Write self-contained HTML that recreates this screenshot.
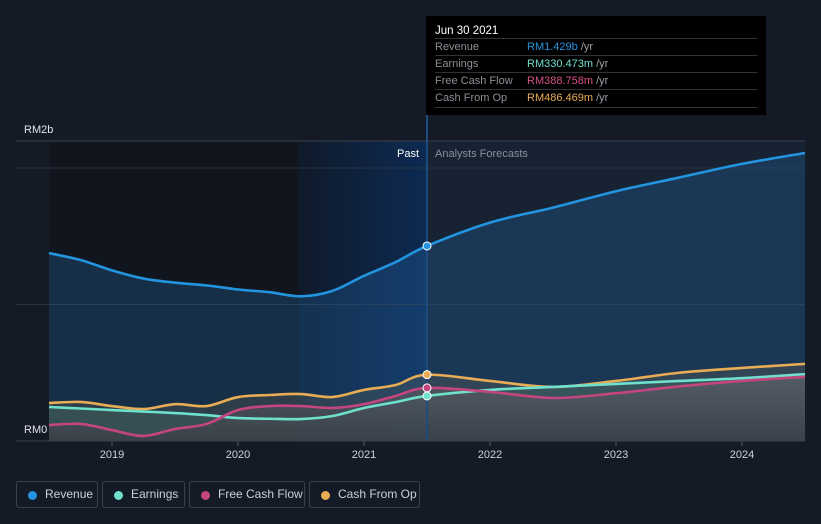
<!DOCTYPE html>
<html><head><meta charset="utf-8"><style>
body{margin:0;background:#151b26;font-family:"Liberation Sans",sans-serif;}
#wrap{position:relative;width:821px;height:524px;overflow:hidden;background:#151b26;}
svg{position:absolute;left:0;top:0;}
.tt{position:absolute;left:426px;top:16px;width:340px;height:99px;background:#000;color:#fff;font-size:11px;}
.tt .h{position:absolute;left:9px;top:9px;font-size:11.5px;}
.tt .r{position:absolute;left:9px;width:322px;height:17px;border-top:1px solid #333;color:#8a8f98;line-height:17px;}
.tt .r span{position:absolute;left:92px;}
.tt .r i{font-style:normal;color:#9aa0a8;}
.lg{position:absolute;top:481px;height:25px;border:1px solid #3a3f4a;border-radius:3px;color:#cdd0d6;font-size:12px;line-height:25px;box-sizing:border-box;height:27px;}
.lg b{position:absolute;left:11px;top:9px;width:9px;height:9px;border-radius:50%;}
.lg span{position:absolute;left:28px;}
</style></head><body>
<div id="wrap">
<svg id="chart" width="821" height="524"></svg>
<div class="tt">
 <div class="h">Jun 30 2021</div>
 <div class="r" style="top:22px">Revenue<span style="color:#2394df">RM1.429b <i>/yr</i></span></div>
 <div class="r" style="top:39px">Earnings<span style="color:#6ee0cc">RM330.473m <i>/yr</i></span></div>
 <div class="r" style="top:56px">Free Cash Flow<span style="color:#d9508a">RM388.758m <i>/yr</i></span></div>
 <div class="r" style="top:73px;border-bottom:1px solid #333">Cash From Op<span style="color:#e8ac55">RM486.469m <i>/yr</i></span></div>
</div>
<div class="lg" style="left:16px;width:82px"><b style="background:#2394df"></b><span>Revenue</span></div>
<div class="lg" style="left:102px;width:83px"><b style="background:#6ee0cc"></b><span>Earnings</span></div>
<div class="lg" style="left:189px;width:116px"><b style="background:#c4457f"></b><span>Free Cash Flow</span></div>
<div class="lg" style="left:309px;width:111px"><b style="background:#e8ac55"></b><span>Cash From Op</span></div>
</div>
<script>
const years=[2018.5,2018.75,2019,2019.25,2019.5,2019.75,2020,2020.25,2020.5,2020.75,2021,2021.25,2021.5,2022,2022.5,2023,2023.5,2024,2024.5];
const revenue=[1.377,1.326,1.25,1.19,1.16,1.14,1.11,1.09,1.06,1.10,1.21,1.31,1.429,1.60,1.71,1.83,1.93,2.03,2.11];
const earnings=[0.249,0.238,0.227,0.216,0.205,0.19,0.168,0.163,0.161,0.183,0.242,0.285,0.330,0.374,0.396,0.418,0.44,0.46,0.49];
const fcf=[0.117,0.125,0.08,0.037,0.088,0.125,0.227,0.256,0.256,0.242,0.27,0.33,0.389,0.36,0.315,0.35,0.40,0.44,0.47];
const cfo=[0.278,0.286,0.256,0.234,0.27,0.256,0.322,0.337,0.344,0.322,0.374,0.41,0.486,0.44,0.396,0.44,0.50,0.535,0.565];
const xTicks=[2019,2020,2021,2022,2023,2024];
const NOW=2021.5;
const X=y=>112+(y-2019)*126;
const Y=v=>441-v*136.5;
const svg=document.getElementById('chart');
const NS='http://www.w3.org/2000/svg';
function mk(t,a){const e=document.createElementNS(NS,t);for(const k in a)e.setAttribute(k,a[k]);svg.appendChild(e);return e;}
function path(vals){const p=years.map((y,i)=>[X(y),Y(vals[i])]);let d='M'+p[0];for(let i=0;i<p.length-1;i++){const p0=p[i-1]||p[i],p1=p[i],p2=p[i+1],p3=p[i+2]||p2;const c1=[p1[0]+(p2[0]-p0[0])/6,p1[1]+(p2[1]-p0[1])/6],c2=[p2[0]-(p3[0]-p1[0])/6,p2[1]-(p3[1]-p1[1])/6];d+='C'+c1+' '+c2+' '+p2;}return d;}
const defs=mk('defs',{});
defs.innerHTML='<linearGradient id="past" x1="0" x2="1"><stop offset="0" stop-color="#0f1a2a"/><stop offset="1" stop-color="#0d2a52"/></linearGradient><linearGradient id="gf" x1="0" y1="0" x2="0" y2="1"><stop offset="0" stop-color="#5a5d66" stop-opacity=".8"/><stop offset="1" stop-color="#3a3d46" stop-opacity=".8"/></linearGradient>';
let e;
e=mk('rect',{x:49,y:141,width:250,height:300,fill:'#11151d'});
e=mk('rect',{x:299,y:141,width:X(NOW)-299,height:300,fill:'url(#past)'});
e=mk('rect',{x:X(NOW),y:141,width:805-X(NOW),height:300,fill:'#172232'});
[[0.2,'#2a3140'],[1,'#2a3140'],[2,'#2a3140']].forEach((g,i)=>{e=mk('line',{x1:16,x2:805,y1:Y(g[0]*0)+0,y2:0,stroke:g[1]});e.remove();});
[Y(1),Y(2)].forEach(y=>{e=mk('line',{x1:16,x2:805,y1:y,y2:y,stroke:'#2a3140'});});
e=mk('line',{x1:16,x2:805,y1:141,y2:141,stroke:'#3a404c'});
const series=[[revenue,'#2394df','rgba(35,110,180,0.28)','revenue'],[cfo,'#e8ac55','rgba(120,110,80,0.25)','cash-from-op'],[earnings,'#6ee0cc','rgba(70,120,110,0.3)','earnings'],[fcf,'#c4457f','url(#gf)','free-cash-flow']];
series.forEach(s=>{const d=path(s[0]);e=mk('path',{d:d+'L'+X(2024.5)+',441L'+X(2018.5)+',441Z',fill:s[2]});});
e=mk('line',{x1:X(NOW),x2:X(NOW),y1:110,y2:441,stroke:'#1d4a80','stroke-width':2});
series.forEach(s=>{e=mk('path',{d:path(s[0]),fill:'none',stroke:s[1],'stroke-width':2.6});});
series.forEach(s=>{const i=years.indexOf(NOW);e=mk('circle',{cx:X(NOW),cy:Y(s[0][i]),r:4,fill:s[1],stroke:'#fff','stroke-width':1});});
e=mk('line',{x1:16,x2:805,y1:441,y2:441,stroke:'#3a404c'});
xTicks.forEach(t=>{e=mk('line',{x1:X(t),x2:X(t),y1:441,y2:446,stroke:'#555'});
e=mk('text',{x:X(t),y:458,fill:'#d0d3d8','font-size':11,'text-anchor':'middle'});e.textContent=t;});
e=mk('text',{x:24,y:133,fill:'#e0e2e6','font-size':11});e.textContent='RM2b';
e=mk('text',{x:24,y:433,fill:'#e0e2e6','font-size':11});e.textContent='RM0';
e=mk('text',{x:X(NOW)-8,y:157,fill:'#fff','font-size':11,'text-anchor':'end'});e.textContent='Past';
e=mk('text',{x:X(NOW)+8,y:157,fill:'#8a8f98','font-size':11});e.textContent='Analysts Forecasts';
</script>
</body></html>
